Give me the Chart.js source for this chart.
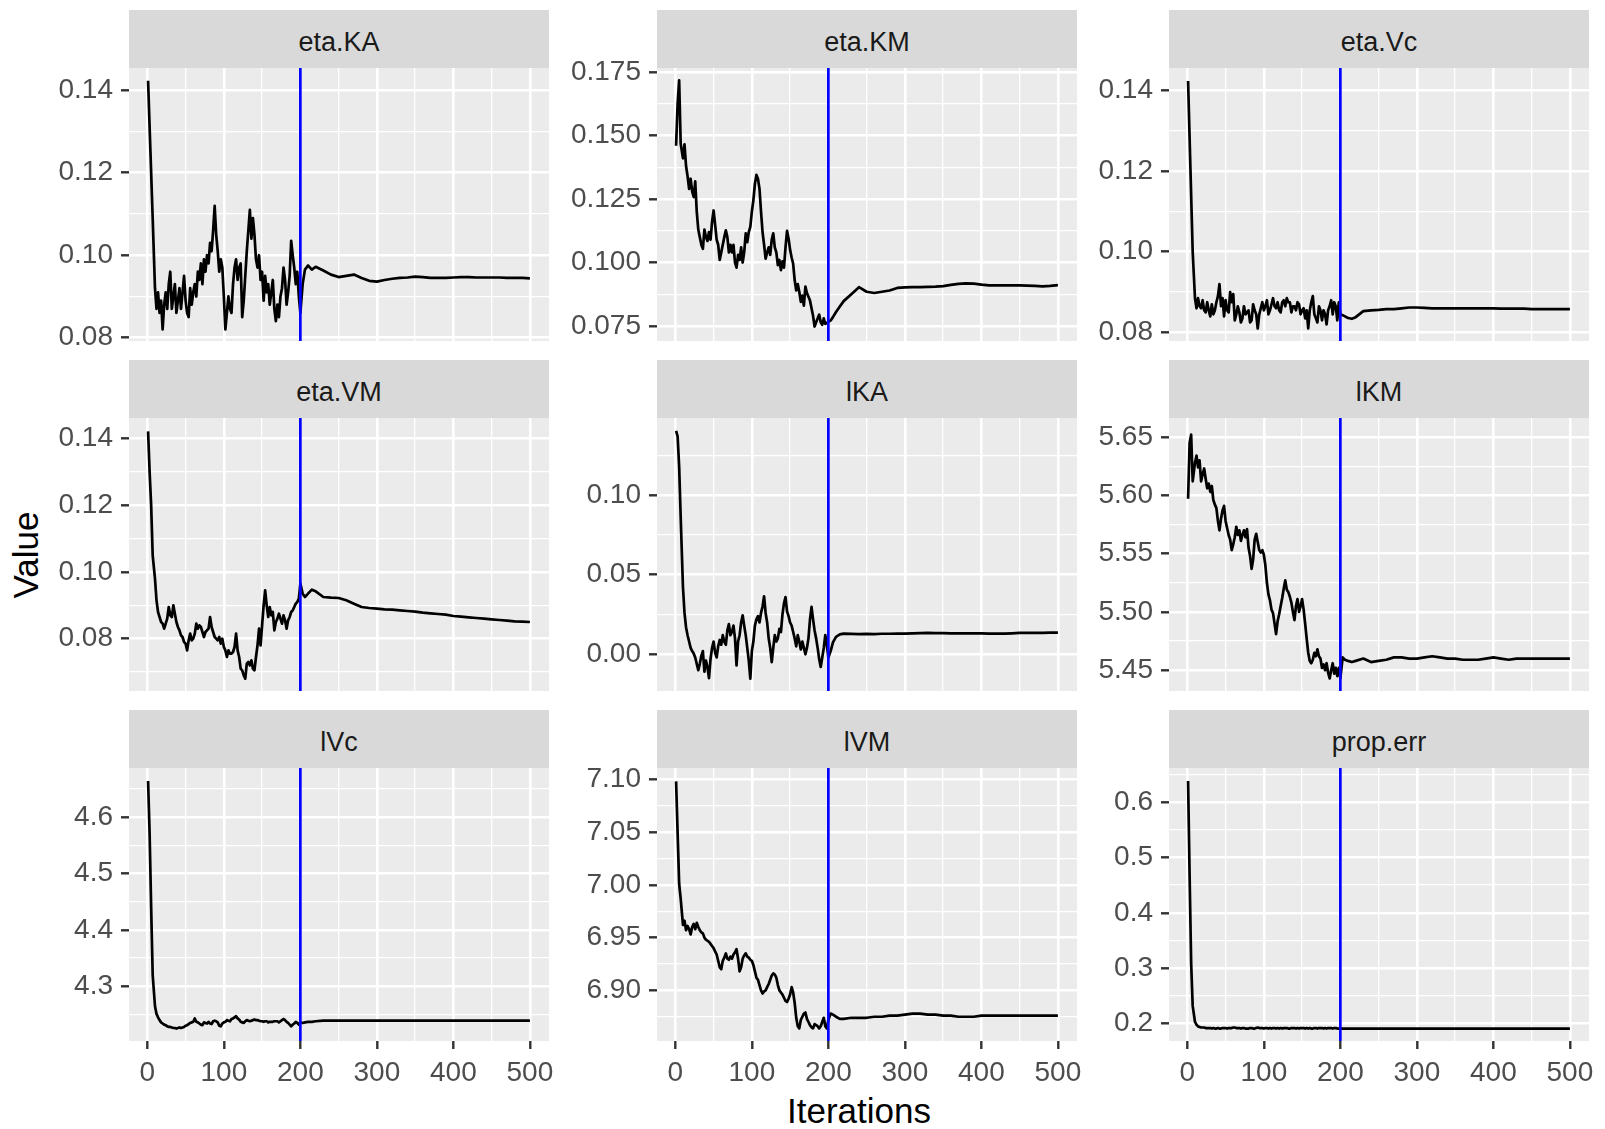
<!DOCTYPE html>
<html><head><meta charset="utf-8">
<script src="https://cdn.jsdelivr.net/npm/chart.js@4.4.1/dist/chart.umd.min.js"></script>
<style>
html,body{margin:0;padding:0;background:#fff;}
body{width:1605px;height:1129px;position:relative;overflow:hidden;font-family:"Liberation Sans",Arial,sans-serif;}
.strip{position:absolute;background:#D9D9D9;color:#1A1A1A;font-size:27px;display:flex;align-items:center;justify-content:center;box-sizing:border-box;padding-top:7px;}
.box{position:absolute;}
.title{position:absolute;color:#000;font-size:35px;white-space:nowrap;line-height:1.15;}
</style></head><body>
<div class="title" id="ytitle" style="left:26px;top:555px;transform:translate(-50%,-50%) rotate(-90deg);">Value</div>
<div class="title" id="xtitle" style="left:859px;top:1091px;transform:translateX(-50%);">Iterations</div>
<script>
// ---------- data ----------
const panelNames = ["eta.KA","eta.KM","eta.Vc","eta.VM","lKA","lKM","lVc","lVM","prop.err"];
const burnIn = 200;
const iterations = [1,3,5,7,
10,12,14,16,18,20,22,24,26,28,
30,32,34,36,38,40,42,44,46,48,
50,52,54,56,58,60,62,64,66,68,
70,72,74,76,78,80,82,84,86,88,
90,92,94,96,98,100,102,104,106,108,
110,112,114,116,118,120,122,124,126,128,
130,132,134,136,138,140,142,144,146,148,
150,152,154,156,158,160,162,164,166,168,
170,172,174,176,178,180,182,184,186,188,
190,192,194,196,198,200,
203,206,210,215,220,
230,240,250,260,270,280,290,300,310,320,
330,340,350,360,370,380,390,400,410,420,
430,440,450,460,470,480,490,500];

const etaKA = [0.1423,0.131,0.120,0.109,
0.092,0.087,0.091,0.086,0.089,0.082,0.088,0.091,0.087,0.093,
0.096,0.087,0.090,0.093,0.086,0.089,0.092,0.087,0.091,0.095,
0.089,0.086,0.085,0.092,0.088,0.091,0.093,0.090,0.096,0.094,
0.098,0.093,0.099,0.096,0.100,0.098,0.103,0.101,0.106,0.112,
0.105,0.101,0.096,0.099,0.097,0.090,0.082,0.086,0.090,0.087,
0.086,0.093,0.097,0.099,0.094,0.097,0.098,0.085,0.089,0.095,
0.101,0.106,0.111,0.104,0.109,0.105,0.099,0.097,0.100,0.094,
0.096,0.089,0.095,0.091,0.093,0.088,0.091,0.094,0.087,0.084,
0.088,0.085,0.090,0.092,0.097,0.094,0.088,0.091,0.095,0.1035,
0.100,0.097,0.093,0.096,0.090,0.086,
0.093,0.0965,0.0975,0.0965,0.0972,
0.0963,0.0953,0.0947,0.0950,0.0953,0.0945,0.0938,0.0936,0.0940,0.0943,
0.0945,0.0946,0.0948,0.0947,0.0945,0.0945,0.0945,0.0946,0.0947,0.0947,
0.0946,0.0946,0.0946,0.0946,0.0945,0.0945,0.0945,0.0944];

const etaKM = [0.146,0.1625,0.1717,0.1468,
0.141,0.1465,0.138,0.134,0.129,0.133,0.128,0.1258,0.132,0.120,
0.113,0.110,0.107,0.1054,0.113,0.110,0.1085,0.112,0.109,0.116,
0.1205,0.115,0.109,0.107,0.101,0.104,0.107,0.110,0.1127,0.110,
0.104,0.107,0.104,0.107,0.100,0.098,0.103,0.101,0.106,0.100,
0.104,0.1115,0.108,0.112,0.114,0.120,0.1245,0.131,0.1345,0.133,
0.129,0.120,0.112,0.107,0.1015,0.104,0.106,0.103,0.109,0.1115,
0.106,0.104,0.099,0.101,0.097,0.1005,0.098,0.106,0.1125,0.1095,
0.105,0.102,0.0995,0.093,0.089,0.0915,0.0885,0.0845,0.087,0.083,
0.0905,0.088,0.0865,0.085,0.082,0.079,0.0748,0.0765,0.078,0.0795,
0.0765,0.0755,0.078,0.0758,0.0762,0.0766,
0.0772,0.0785,0.0805,0.0827,0.0848,
0.0875,0.0903,0.0885,0.0880,0.0885,0.0890,0.0900,0.0902,0.0903,0.0903,
0.0904,0.0905,0.0907,0.0912,0.0916,0.0918,0.0917,0.0913,0.0910,0.0910,
0.0910,0.0910,0.0910,0.0909,0.0908,0.0906,0.0908,0.0911];

const etaVc = [0.1423,0.128,0.114,0.100,
0.0885,0.086,0.0885,0.0865,0.086,0.088,0.0855,0.085,0.0875,0.0855,
0.084,0.087,0.0845,0.0855,0.0875,0.089,0.092,0.0865,0.0885,0.084,
0.088,0.0855,0.085,0.090,0.0875,0.0895,0.083,0.0845,0.0865,0.085,
0.0825,0.0835,0.0865,0.0845,0.085,0.0855,0.0825,0.083,0.087,0.0855,
0.0845,0.081,0.0845,0.086,0.0875,0.0855,0.0865,0.088,0.0845,0.0855,
0.087,0.0885,0.0865,0.086,0.0875,0.0855,0.085,0.0875,0.088,0.0865,
0.0885,0.0875,0.0875,0.085,0.0865,0.0865,0.0855,0.0875,0.087,0.0845,
0.0855,0.086,0.0835,0.0855,0.081,0.0855,0.0875,0.089,0.0845,0.0835,
0.0825,0.0865,0.0855,0.083,0.0855,0.0845,0.082,0.0855,0.0865,0.088,
0.0845,0.0875,0.0865,0.083,0.0875,0.0845,
0.0843,0.084,0.0836,0.0834,0.0838,
0.0853,0.0855,0.0856,0.0858,0.0858,0.0860,0.0862,0.0862,0.0861,0.0860,
0.0860,0.0860,0.0860,0.0860,0.0860,0.0860,0.0860,0.0860,0.0859,0.0859,
0.0859,0.0859,0.0858,0.0858,0.0858,0.0858,0.0858,0.0858];

const etaVM = [0.1422,0.130,0.120,0.105,
0.098,0.0915,0.088,0.0865,0.085,0.0845,0.083,0.0845,0.086,0.0895,
0.087,0.0865,0.090,0.0875,0.085,0.0835,0.0825,0.081,0.0805,0.079,
0.0785,0.0765,0.0795,0.0815,0.0795,0.080,0.0815,0.0845,0.083,0.084,
0.0835,0.082,0.0805,0.082,0.0825,0.083,0.0865,0.0835,0.082,0.0805,
0.080,0.0795,0.0805,0.0785,0.080,0.0775,0.0765,0.0745,0.0765,0.0755,
0.0755,0.076,0.0775,0.0815,0.0765,0.0745,0.071,0.0705,0.069,0.068,
0.0725,0.073,0.072,0.0735,0.071,0.0705,0.0745,0.078,0.083,0.078,
0.084,0.090,0.0945,0.090,0.0865,0.0895,0.087,0.088,0.0825,0.085,
0.086,0.0875,0.086,0.0845,0.087,0.0855,0.083,0.0855,0.0865,0.088,
0.0885,0.0895,0.0905,0.091,0.092,0.0965,
0.0935,0.0925,0.0935,0.0947,0.0942,
0.0925,0.0923,0.0922,0.0915,0.0905,0.0895,0.0892,0.0890,0.0888,0.0887,
0.0885,0.0883,0.0881,0.0878,0.0876,0.0874,0.0872,0.0868,0.0866,0.0864,
0.0862,0.0860,0.0858,0.0856,0.0854,0.0852,0.0851,0.0850];

const lKA = [0.1405,0.1370,0.118,0.0864,
0.042,0.026,0.017,0.012,0.008,0.004,0.002,0.0005,-0.002,-0.006,
-0.010,-0.006,-0.001,0.002,-0.011,-0.004,-0.008,-0.015,-0.003,0.004,
0.008,0.001,-0.002,0.005,0.009,0.006,0.012,0.008,0.006,0.015,
0.019,0.012,0.014,0.018,0.010,-0.007,0.008,0.012,0.020,0.0245,
0.018,0.012,0.004,-0.004,-0.0153,0.002,0.008,0.018,0.022,0.024,
0.020,0.026,0.030,0.0365,0.026,0.020,0.010,0.004,-0.005,0.004,
0.012,0.008,0.010,0.016,0.014,0.025,0.032,0.036,0.027,0.024,
0.020,0.018,0.014,0.010,0.005,0.012,0.008,0.003,0.008,0.004,
0.000,0.004,0.010,0.022,0.0298,0.022,0.015,0.010,0.004,-0.003,
-0.008,-0.002,0.004,0.012,0.006,-0.002,
0.002,0.0075,0.011,0.0125,0.013,
0.0128,0.0127,0.0128,0.0127,0.0129,0.0129,0.0130,0.0130,0.0131,0.0133,
0.0134,0.0133,0.0133,0.0132,0.0132,0.0131,0.0131,0.0131,0.0130,0.0130,
0.0130,0.0132,0.0135,0.0135,0.0135,0.0135,0.0136,0.0136];

const lKM = [5.597,5.645,5.652,5.612,
5.628,5.634,5.624,5.630,5.612,5.618,5.623,5.614,5.606,5.610,
5.603,5.608,5.596,5.592,5.589,5.578,5.570,5.580,5.587,5.591,
5.578,5.572,5.566,5.562,5.553,5.558,5.564,5.573,5.566,5.570,
5.561,5.566,5.570,5.564,5.571,5.555,5.548,5.537,5.545,5.562,
5.567,5.560,5.553,5.551,5.553,5.549,5.540,5.525,5.515,5.510,
5.502,5.499,5.490,5.481,5.492,5.498,5.505,5.512,5.520,5.527,
5.519,5.517,5.513,5.508,5.500,5.493,5.505,5.511,5.500,5.505,
5.511,5.502,5.490,5.477,5.465,5.458,5.456,5.459,5.465,5.462,
5.468,5.462,5.460,5.452,5.455,5.450,5.456,5.448,5.443,5.450,
5.456,5.447,5.452,5.445,5.452,5.443,
5.461,5.459,5.458,5.457,5.458,
5.460,5.457,5.458,5.459,5.461,5.461,5.460,5.460,5.461,5.462,
5.461,5.460,5.460,5.459,5.459,5.459,5.460,5.461,5.460,5.459,
5.460,5.460,5.460,5.460,5.460,5.460,5.460,5.460];

const lVc = [4.664,4.57,4.44,4.32,
4.265,4.251,4.245,4.240,4.236,4.234,4.232,4.231,4.229,4.228,
4.228,4.227,4.226,4.226,4.225,4.226,4.227,4.226,4.227,4.228,
4.230,4.231,4.233,4.235,4.236,4.237,4.243,4.237,4.236,4.234,
4.232,4.231,4.236,4.235,4.234,4.237,4.234,4.233,4.238,4.239,
4.238,4.236,4.230,4.229,4.234,4.236,4.237,4.240,4.239,4.238,
4.242,4.243,4.245,4.247,4.243,4.241,4.237,4.236,4.235,4.238,
4.240,4.239,4.238,4.239,4.240,4.241,4.240,4.240,4.239,4.238,
4.238,4.237,4.238,4.238,4.236,4.237,4.237,4.237,4.238,4.238,
4.238,4.236,4.238,4.240,4.242,4.240,4.237,4.235,4.232,4.229,
4.232,4.234,4.237,4.235,4.232,4.236,
4.235,4.236,4.237,4.237,4.238,
4.239,4.239,4.239,4.239,4.239,4.239,4.239,4.239,4.239,4.239,
4.239,4.239,4.239,4.239,4.239,4.239,4.239,4.239,4.239,4.239,
4.239,4.239,4.239,4.239,4.239,4.239,4.239,4.239];

const lVM = [7.098,7.049,7.001,6.987,
6.962,6.966,6.957,6.961,6.958,6.953,6.960,6.963,6.958,6.964,
6.960,6.957,6.955,6.954,6.950,6.948,6.947,6.946,6.944,6.942,
6.940,6.937,6.934,6.928,6.922,6.920,6.928,6.931,6.935,6.930,
6.929,6.932,6.930,6.934,6.936,6.939,6.930,6.918,6.922,6.930,
6.933,6.935,6.932,6.931,6.929,6.928,6.924,6.918,6.912,6.910,
6.905,6.900,6.897,6.899,6.900,6.903,6.906,6.910,6.914,6.916,
6.915,6.912,6.905,6.900,6.898,6.896,6.893,6.890,6.889,6.892,
6.896,6.903,6.898,6.888,6.874,6.866,6.864,6.872,6.875,6.878,
6.879,6.873,6.870,6.867,6.865,6.864,6.868,6.867,6.866,6.864,
6.866,6.870,6.874,6.866,6.864,6.872,
6.878,6.877,6.875,6.873,6.873,
6.874,6.874,6.874,6.875,6.875,6.876,6.876,6.877,6.878,6.878,
6.877,6.877,6.876,6.876,6.875,6.875,6.875,6.876,6.876,6.876,
6.876,6.876,6.876,6.876,6.876,6.876,6.876,6.876];

const propErr = [0.638,0.465,0.310,0.232,
0.203,0.198,0.195,0.194,0.193,0.193,0.193,0.192,0.192,0.192,
0.192,0.191,0.192,0.191,0.191,0.192,0.191,0.191,0.192,0.192,
0.192,0.191,0.192,0.192,0.192,0.193,0.193,0.192,0.192,0.192,
0.191,0.192,0.192,0.191,0.191,0.191,0.192,0.192,0.191,0.191,
0.192,0.193,0.192,0.192,0.192,0.191,0.192,0.192,0.191,0.192,
0.191,0.192,0.192,0.191,0.192,0.191,0.192,0.191,0.192,0.192,
0.192,0.191,0.191,0.192,0.192,0.192,0.191,0.192,0.191,0.192,
0.192,0.192,0.191,0.192,0.191,0.192,0.191,0.191,0.192,0.192,
0.191,0.192,0.192,0.192,0.191,0.192,0.191,0.192,0.192,0.192,
0.191,0.192,0.192,0.191,0.191,0.191,
0.191,0.191,0.191,0.191,0.191,
0.191,0.191,0.191,0.191,0.191,0.191,0.191,0.191,0.191,0.191,
0.191,0.191,0.191,0.191,0.191,0.191,0.191,0.191,0.191,0.191,
0.191,0.191,0.191,0.191,0.191,0.191,0.191,0.191];

// tick labels
const xTickLabels = ["0","100","200","300","400","500"];
const ticksKA   = ["0.08","0.10","0.12","0.14"];
const ticksKM   = ["0.075","0.100","0.125","0.150","0.175"];
const ticksVc   = ["0.08","0.10","0.12","0.14"];
const ticksVM   = ["0.08","0.10","0.12","0.14"];
const ticksLKA  = ["0.00","0.05","0.10"];
const ticksLKM  = ["5.45","5.50","5.55","5.60","5.65"];
const ticksLVc  = ["4.3","4.4","4.5","4.6"];
const ticksLVM  = ["6.90","6.95","7.00","7.05","7.10"];
const ticksProp = ["0.2","0.3","0.4","0.5","0.6"];

// axis limits
const xLimits = [-23.95, 524.95];
const yLow  = [0.0792, 0.0691, 0.0779, 0.0643, -0.0231, 5.4322, 4.2030, 6.8520, 0.1686];
const yHigh = [0.1454, 0.1766, 0.1455, 0.1462,  0.1486, 5.6663, 4.6869, 7.1107, 0.6614];

const seriesList = [etaKA, etaKM, etaVc, etaVM, lKA, lKM, lVc, lVM, propErr];
const tickList = [ticksKA, ticksKM, ticksVc, ticksVM, ticksLKA, ticksLKM, ticksLVc, ticksLVM, ticksProp];

// ---------- layout ----------
const colLeft = [129, 657, 1169];
const rowTop = [68, 418, 768];
const PW = 420, PH = 273, SH = 58;
const AXW = 124, M = 26, XAH = 66;
const FONT = '"Liberation Sans", Arial, sans-serif';
Chart.defaults.font.family = FONT;

function buildTicks(labels, lo, hi) {
  const majors = labels.map(Number);
  const step = majors[1] - majors[0];
  const out = [];
  const cands = [];
  majors.forEach((v, i) => cands.push({value: v, txt: labels[i], minor: false}));
  cands.push({value: majors[0] - step / 2, txt: '', minor: true});
  majors.forEach(v => cands.push({value: v + step / 2, txt: '', minor: true}));
  cands.forEach(t => { if (t.value >= lo - 1e-9 && t.value <= hi + 1e-9) out.push(t); });
  out.sort((a, b) => a.value - b.value);
  return out;
}

const panelBg = {
  id: 'panelBg',
  beforeDraw(chart) {
    const a = chart.chartArea, ctx = chart.ctx;
    ctx.save();
    ctx.fillStyle = '#EBEBEB';
    ctx.fillRect(a.left, a.top, a.right - a.left, a.bottom - a.top);
    ctx.restore();
  }
};

const gridOpts = (showTicks) => ({
  color: '#FFFFFF',
  lineWidth: ctx => (ctx.tick && ctx.tick.minor) ? 1.3 : 2.6,
  drawTicks: showTicks,
  tickLength: 8,
  tickWidth: 2.4,
  tickColor: ctx => (ctx.tick && ctx.tick.minor) ? 'rgba(0,0,0,0)' : '#333333'
});

panelNames.forEach((name, i) => {
  const r = Math.floor(i / 3), c = i % 3, bottom = (r === 2);
  const lo = yLow[i], hi = yHigh[i];

  const s = document.createElement('div');
  s.className = 'strip';
  s.style.left = colLeft[c] + 'px';
  s.style.top = (rowTop[r] - SH) + 'px';
  s.style.width = PW + 'px';
  s.style.height = SH + 'px';
  s.textContent = name;
  document.body.appendChild(s);

  const W = AXW + PW + M, H = M + PH + (bottom ? XAH : M);
  const box = document.createElement('div');
  box.className = 'box';
  box.style.left = (colLeft[c] - AXW) + 'px';
  box.style.top = (rowTop[r] - M) + 'px';
  box.style.width = W + 'px';
  box.style.height = H + 'px';
  const cv = document.createElement('canvas');
  box.appendChild(cv);
  document.body.appendChild(box);

  const xt = buildTicks(xTickLabels, xLimits[0], xLimits[1]);
  const yt = buildTicks(tickList[i], lo, hi);
  const series = seriesList[i];

  new Chart(cv, {
    type: 'line',
    data: {
      datasets: [
        { data: [{x: burnIn, y: lo}, {x: burnIn, y: hi}], borderColor: '#0000FF', borderWidth: 2.7,
          pointRadius: 0, order: 0, clip: 0 },
        { data: iterations.map((x, k) => ({x: x, y: series[k]})), borderColor: '#000000', borderWidth: 2.7,
          pointRadius: 0, tension: 0, order: 1, clip: 0, borderJoinStyle: 'round' }
      ]
    },
    options: {
      responsive: true, maintainAspectRatio: false, animation: false,
      layout: { padding: { top: M, right: M, bottom: bottom ? 0 : M, left: 0 } },
      plugins: { legend: { display: false }, tooltip: { enabled: false } },
      scales: {
        x: {
          type: 'linear', min: xLimits[0], max: xLimits[1],
          afterBuildTicks: sc => { sc.ticks = xt.map(t => Object.assign({}, t)); },
          afterFit: sc => { sc.height = bottom ? XAH : 0; },
          border: { display: false },
          grid: gridOpts(bottom),
          ticks: { display: bottom, autoSkip: false, maxRotation: 0, minRotation: 0,
                   color: '#4D4D4D', font: { size: 28 }, padding: 7,
                   callback: (v, idx, ticks) => ticks[idx].txt }
        },
        y: {
          type: 'linear', min: lo, max: hi,
          afterBuildTicks: sc => { sc.ticks = yt.map(t => Object.assign({}, t)); },
          afterFit: sc => { sc.width = AXW; },
          border: { display: false },
          grid: gridOpts(true),
          ticks: { autoSkip: false, color: '#4D4D4D', font: { size: 28 }, padding: 8,
                   callback: (v, idx, ticks) => ticks[idx].txt }
        }
      }
    },
    plugins: [panelBg]
  });
});
</script>
</body></html>
